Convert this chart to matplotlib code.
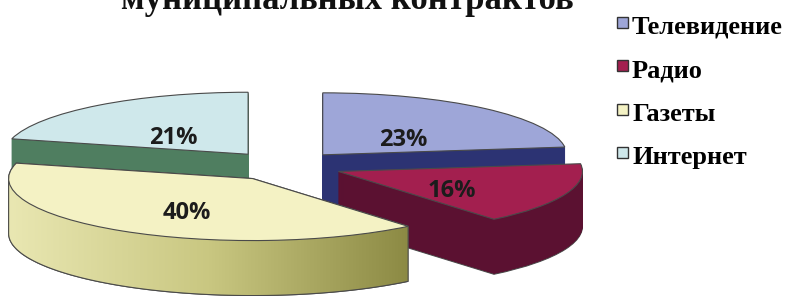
import matplotlib
matplotlib.use('Agg')
import numpy as np
import matplotlib.pyplot as plt
from matplotlib.patches import Rectangle, Polygon
from matplotlib.colors import LinearSegmentedColormap
from matplotlib.legend_handler import HandlerPatch

# ---- data ----
categories = ['Телевидение', 'Радио', 'Газеты', 'Интернет']
shares = [23, 16, 40, 21]
title_text = 'муниципальных контрактов'

# ---- styles ----
top_colors = ['#9ea6d8', '#a31f4f', '#f4f2c4', '#cfe8eb']
side_colors = ['#2c3373', '#5b1131', '#b2b06a', '#4f7e60']
gazety_side_grad = ['#e9e7b2', '#c9c781', '#8c8a44']
edge_col = '#4a4a4a'

W, H = 791, 296
fig = plt.figure(figsize=(W / 100, H / 100), dpi=100)
ax = fig.add_axes([0, 0, 1, 1])

# pixel geometry: centre, x-radius, y-radius (px)
cx_px, cy_px, rx_px, ry_px = 284, 166, 244, 62
depth = 55 / ry_px
n_layers = 55
explode = [0.24] * len(shares)

# side walls: stacked layers
bottom_wedges = None
for i in range(n_layers, 0, -1):
    dy = -depth * i / n_layers
    lw = 0.8 if i == n_layers else 0.6
    ec = [edge_col] * 4 if i == n_layers else side_colors
    wedges, _ = ax.pie(shares, explode=explode, colors=side_colors, startangle=90,
                       counterclock=False, center=(0, dy), radius=1, frame=True,
                       wedgeprops=dict(linewidth=lw))
    for w, e in zip(wedges, ec):
        w.set_edgecolor(e)
    if i == n_layers:
        bottom_wedges = wedges

# top surface
top_wedges, texts, autotexts = ax.pie(
    shares, explode=explode, colors=top_colors, startangle=90, counterclock=False,
    center=(0, 0), radius=1, frame=True, autopct='%d%%', pctdistance=0.5,
    wedgeprops=dict(edgecolor=edge_col, linewidth=0.8, zorder=2),
    textprops=dict(fontsize=17, fontweight='bold', color='#1c1c1c', family='Open Sans'))
for t in autotexts:
    x, y = t.get_position()
    t.set_position((x, y - 8 / ry_px))
    t.set_zorder(4)


def path_points(path):
    out = []
    ts = np.linspace(0, 1, 24)
    for seg, _code in path.iter_bezier():
        out.append(np.atleast_2d(seg(ts)))
    return np.vstack(out)


def convex_hull(pts):
    pts = sorted(set(map(tuple, np.round(pts, 6))))
    def cross(o, a, b):
        return (a[0] - o[0]) * (b[1] - o[1]) - (a[1] - o[1]) * (b[0] - o[0])
    lower, upper = [], []
    for p in pts:
        while len(lower) >= 2 and cross(lower[-2], lower[-1], p) <= 0:
            lower.pop()
        lower.append(p)
    for p in reversed(pts):
        while len(upper) >= 2 and cross(upper[-2], upper[-1], p) <= 0:
            upper.pop()
        upper.append(p)
    return np.array(lower[:-1] + upper[:-1])


# gradient shading on the side wall of the front slice (Газеты)
gi = categories.index('Газеты')
pts = np.vstack([path_points(top_wedges[gi].get_path()),
                 path_points(bottom_wedges[gi].get_path())])
hull = convex_hull(pts)
clip = Polygon(hull, closed=True, transform=ax.transData, facecolor='none', edgecolor='none')
ax.add_patch(clip)
cmap = LinearSegmentedColormap.from_list('gz', gazety_side_grad)
grad = np.linspace(0, 1, 256).reshape(1, -1)
im = ax.imshow(grad, cmap=cmap, aspect='auto', zorder=1.5,
               extent=(hull[:, 0].min(), hull[:, 0].max(), hull[:, 1].min(), hull[:, 1].max()))
im.set_clip_path(clip)
ax.add_patch(Polygon(hull, closed=True, transform=ax.transData, facecolor='none',
                     edgecolor=edge_col, linewidth=0.8, zorder=1.6))

ax.set_aspect('auto')
ax.set_xlim(-cx_px / rx_px, (W - cx_px) / rx_px)
ax.set_ylim((cy_px - H) / ry_px, cy_px / ry_px)
ax.axis('off')

# title (only bottom line visible, cut by the top edge as in the reference)
fig.text(347 / W, 1 - 9 / H, title_text, ha='center', va='baseline',
         family='Liberation Serif', fontweight='bold', fontsize=25, color='#111111')


def small_square(legend, orig_handle, xdescent, ydescent, width, height, fontsize):
    s = width
    return Rectangle((0, height - s * 0.7), s, s)


handles = [Rectangle((0, 0), 1, 1, facecolor=c, edgecolor='#333333', linewidth=1.0)
           for c in top_colors]
leg = fig.legend(handles, categories, loc='upper left', bbox_to_anchor=(617 / W, 1 - 16 / H),
                 frameon=False, handlelength=0.42, handleheight=0.42, handletextpad=0.15,
                 labelspacing=0.77, borderaxespad=0, borderpad=0,
                 prop=dict(family='Liberation Serif', weight='bold', size=19),
                 handler_map={Rectangle: HandlerPatch(patch_func=small_square)})

fig.savefig('out.png', dpi=100)
